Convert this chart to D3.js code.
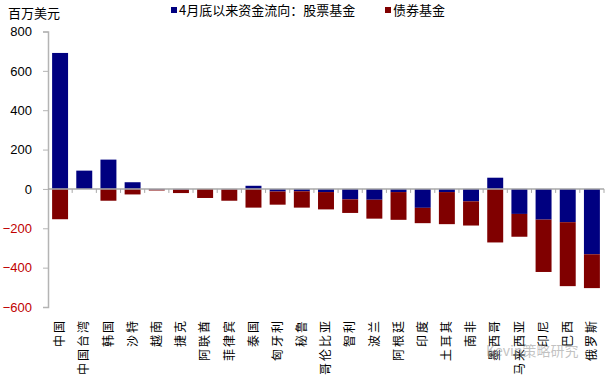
<!DOCTYPE html>
<html>
<head>
<meta charset="utf-8">
<script src="https://cdn.jsdelivr.net/npm/d3@7"></script>
<style>
  body { margin: 0; background: #fff; }
  svg { display: block; }
</style>
</head>
<body>
<svg id="chart"></svg>
<script>
var countries = ["中国","中国台湾","韩国","沙特","越南","捷克","阿联酋","菲律宾","泰国","匈牙利","秘鲁","哥伦比亚","智利","波兰","阿根廷","印度","土耳其","南非","墨西哥","马来西亚","印尼","巴西","俄罗斯"];
var equity = [691, 93, 149, 34, -3, -3, 0, -2, 16, -13, -12, -16, -53, -55, -16, -96, -16, -63, 57, -127, -156, -169, -332];
var bond = [-154, 0, -60, -28, -5, -18, -46, -58, -95, -67, -83, -88, -69, -96, -141, -78, -163, -123, -272, -116, -266, -325, -172];
var yTicks = [-600, -400, -200, 0, 200, 400, 600, 800];

var width = 614, height = 376;
var cnFont = "'Noto Sans CJK SC', sans-serif";

var svg = d3.select("#chart")
    .attr("width", width)
    .attr("height", height);

var rows = countries.map(function (c, i) {
    return {country: c, equity: equity[i], bond: bond[i]};
});

var series = d3.stack()
    .keys(["equity", "bond"])
    .offset(d3.stackOffsetDiverging)(rows);

var xScale = d3.scaleBand()
    .domain(countries)
    .range([48, 604])
    .paddingInner(0.34)
    .paddingOuter(0.17);

var yScale = d3.scaleLinear()
    .domain([-600, 800])
    .range([307, 31.5]);

var colors = {equity: "#000080", bond: "#800000"};

// bars
svg.append("g").selectAll("g")
    .data(series)
    .enter()
    .append("g")
    .attr("fill", function (d) { return colors[d.key]; })
    .selectAll("rect")
    .data(function (d) { return d; })
    .enter()
    .append("rect")
    .attr("x", function (d) { return xScale(d.data.country); })
    .attr("width", xScale.bandwidth())
    .attr("y", function (d) { return yScale(Math.max(d[0], d[1])); })
    .attr("height", function (d) { return Math.abs(yScale(d[0]) - yScale(d[1])); });

// y axis
var yAxis = svg.append("g")
    .attr("transform", "translate(48,0)")
    .call(d3.axisLeft(yScale).tickValues(yTicks).tickSize(5).tickPadding(11));
yAxis.select(".domain").attr("stroke", "#b4b4b4").attr("stroke-width", 1.5);
yAxis.selectAll(".tick line").attr("stroke", "#b4b4b4");
yAxis.selectAll("text")
    .attr("font-family", "'Liberation Sans', Arial, sans-serif")
    .attr("font-size", 13)
    .attr("fill", function (d) { return d < 0 ? "#c00000" : "#000"; });

// x axis along zero, ticks between categories
var zeroY = yScale(0);
var xAxis = svg.append("g");
xAxis.append("line")
    .attr("x1", 48).attr("x2", 604)
    .attr("y1", zeroY).attr("y2", zeroY)
    .attr("stroke", "#a8a8a8")
    .attr("stroke-width", 1.5);
var step = xScale.step();
xAxis.selectAll("line.tk")
    .data(countries)
    .enter()
    .append("line")
    .attr("class", "tk")
    .attr("x1", function (d) { return xScale(d) - step * 0.17 + step; })
    .attr("x2", function (d) { return xScale(d) - step * 0.17 + step; })
    .attr("y1", zeroY)
    .attr("y2", zeroY + 4)
    .attr("stroke", "#a8a8a8");

// category labels, rotated
svg.append("g").selectAll("text")
    .data(countries)
    .enter()
    .append("text")
    .attr("transform", function (d) {
        return "translate(" + (xScale(d) + xScale.bandwidth() / 2) + ",319) rotate(-90)";
    })
    .attr("text-anchor", "end")
    .attr("dy", "0.35em")
    .attr("font-family", cnFont)
    .attr("font-size", 12)
    .attr("letter-spacing", 2)
    .attr("fill", "#000")
    .text(function (d) { return d; });

// unit label
svg.append("text")
    .attr("x", 8).attr("y", 18)
    .attr("font-family", cnFont)
    .attr("font-size", 13)
    .text("百万美元");

// legend
var legend = [
    {key: "equity", label: "4月底以来资金流向：股票基金", x: 171},
    {key: "bond", label: "债券基金", x: 385}
];
var lg = svg.append("g").selectAll("g")
    .data(legend)
    .enter()
    .append("g")
    .attr("transform", function (d) { return "translate(" + d.x + ",0)"; });
lg.append("rect")
    .attr("x", 0).attr("y", 7)
    .attr("width", 6).attr("height", 6)
    .attr("fill", function (d) { return colors[d.key]; });
lg.append("text")
    .attr("x", 8).attr("y", 15)
    .attr("font-family", cnFont)
    .attr("font-size", 13)
    .text(function (d) { return d.label; });

// watermark
svg.append("text")
    .attr("x", 486).attr("y", 356)
    .attr("font-family", cnFont)
    .attr("font-size", 14)
    .attr("fill", "#999")
    .attr("fill-opacity", 0.6)
    .text("Kevin策略研究");
</script>
</body>
</html>
